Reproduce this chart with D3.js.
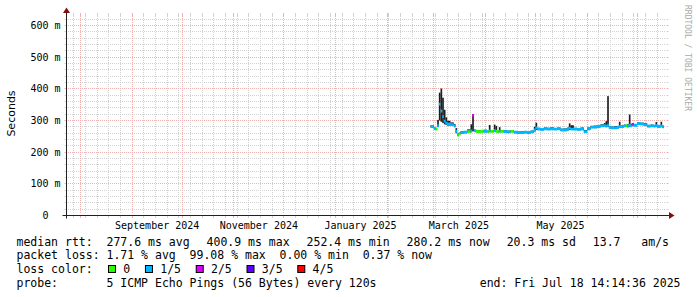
<!DOCTYPE html>
<html><head><meta charset="utf-8">
<script src="https://cdn.jsdelivr.net/npm/d3@7"></script>
<style>
html,body{margin:0;padding:0;background:#fff;}
svg{display:block;}
text{white-space:pre;}
</style></head><body>
<svg id="chart" width="697" height="297" xml:space="preserve"></svg>
<script>
// ---------------- data ----------------
const dates = ["2025-02-27","2025-03-01","2025-03-02","2025-03-03","2025-03-04","2025-03-05","2025-03-06","2025-03-07","2025-03-08","2025-03-09",
"2025-03-11","2025-03-13","2025-03-14","2025-03-15","2025-03-16","2025-03-17","2025-03-19","2025-03-21","2025-03-23","2025-03-24",
"2025-03-25","2025-03-26","2025-03-27","2025-03-29","2025-03-31","2025-04-02","2025-04-03","2025-04-04","2025-04-06","2025-04-07",
"2025-04-08","2025-04-09","2025-04-10","2025-04-12","2025-04-14","2025-04-16","2025-04-18","2025-04-20","2025-04-22","2025-04-24",
"2025-04-26","2025-04-28","2025-04-30","2025-05-01","2025-05-02","2025-05-04","2025-05-06","2025-05-08","2025-05-10","2025-05-12",
"2025-05-14","2025-05-16","2025-05-18","2025-05-20","2025-05-21","2025-05-22","2025-05-24","2025-05-26","2025-05-28","2025-05-30",
"2025-06-01","2025-06-03","2025-06-05","2025-06-07","2025-06-09","2025-06-11","2025-06-12","2025-06-13","2025-06-14","2025-06-15",
"2025-06-17","2025-06-19","2025-06-20","2025-06-21","2025-06-23","2025-06-24","2025-06-25","2025-06-26","2025-06-27","2025-06-28",
"2025-06-29","2025-07-01","2025-07-03","2025-07-05","2025-07-07","2025-07-09","2025-07-11","2025-07-12","2025-07-13","2025-07-15",
"2025-07-16"];
const dataEnd = "2025-07-17";
const medianMs = [281,275,273,284,352,330,312,298,292,289,
287,283,266,254,258,262,263,265,267,316,
268,266,265,266,266,265,267,266,268,266,
265,266,266,265,264,266,263,262,262,263,
262,264,270,277,273,272,274,273,274,273,
274,270,270,272,276,273,273,272,273,265,
274,279,279,281,283,284,282,285,278,277,
277,278,281,281,283,283,282,285,283,288,
285,290,289,287,282,283,282,284,281,283,
280];
const pingMinMs = [278,272,270,279,300,296,292,288,286,284,
283,279,260,251,255,259,260,262,263,266,
264,263,262,263,263,262,263,263,264,263,
262,263,263,262,261,263,260,259,259,260,
259,261,265,270,270,269,271,270,271,270,
271,267,267,269,270,270,270,269,270,262,
270,276,276,278,280,281,279,280,275,274,
274,275,277,278,280,280,279,280,280,284,
282,287,286,284,279,280,279,280,278,279,
277];
const pingMaxMs = [285,279,276,302,388,401,372,334,310,299,
294,289,276,259,262,266,267,272,288,320,
272,270,269,270,271,268,286,270,287,283,
268,279,270,269,268,270,266,265,266,266,
265,268,280,293,277,276,278,277,279,276,
278,274,275,278,291,285,277,276,278,270,
278,283,284,286,288,292,298,377,283,281,
282,283,296,285,287,287,288,319,290,292,
289,294,293,292,286,287,286,295,286,296,
284];
const lossOf5 = [1,1,0,1,1,1,1,1,1,1,
1,1,1,0,0,1,1,0,1,2,
1,0,0,0,1,0,1,0,1,0,
0,1,0,1,1,0,1,1,1,1,
1,1,1,1,1,1,1,1,1,1,
1,1,1,1,1,1,1,1,1,1,
1,1,1,1,1,1,1,1,1,1,
1,1,1,1,1,0,1,1,1,2,
1,1,1,1,1,1,1,1,1,1,
1];
const lossColors = ["#26ff00","#00b8ff","#dd00ff","#5e00ff","#ff0000"];
const lossLabels = ["0","1/5","2/5","3/5","4/5"];
const yTicks = [0,0.1,0.2,0.3,0.4,0.5,0.6];
const yTickLabels = ["0  ","100 m","200 m","300 m","400 m","500 m","600 m"];
const monthLabelDates = ["2024-09-01","2024-11-01","2025-01-01","2025-03-01","2025-05-01"];
const monthLabels = ["September 2024","November 2024","January 2025","March 2025","May 2025"];
const statsMedian = ["median rtt:  277.6 ms avg","400.9 ms max","252.4 ms min","280.2 ms now","20.3 ms sd","13.7   am/s"];
const statsLoss = "packet loss: 1.71 % avg  99.08 % max  0.00 % min  0.37 % now";
const lossColorTitle = "loss color:";
const probeText = "probe:       5 ICMP Echo Pings (56 Bytes) every 120s";
const endText = "end: Fri Jul 18 14:14:36 2025";
const yTitle = "Seconds";
const watermark = "RRDTOOL / TOBI OETIKER";

// ---------------- layout ----------------
const X0 = 66.5, X1 = 666.5, Y0 = 215.5, Y1 = 15.5;
const MONO = "'DejaVu Sans Mono', monospace";
const SANS = "'DejaVu Sans', sans-serif";
const parse = d3.utcParse("%Y-%m-%d");
const endTime = new Date(Date.UTC(2025, 6, 18, 14, 14, 36));
const startTime = new Date(+endTime - 360 * 864e5);
const x = d3.scaleUtc().domain([startTime, endTime]).range([X0, X1]);
const yMax = 0.6316;
const y = d3.scaleLinear().domain([0, yMax]).range([Y0, Y1]);

const svg = d3.select("#chart");
svg.append("rect").attr("width", 697).attr("height", 297).attr("fill", "#fff");

const snap = v => Math.round(v - 0.5) + 0.5;
const gridG = svg.append("g");
const MINOR = "#d2d2d2", MAJOR = "#f0b0b0";

const minorY = d3.range(0.02, yMax, 0.02).filter(v => Math.abs(v * 10 - Math.round(v * 10)) > 1e-6);
function hline(v, col) {
  const yy = snap(y(v));
  gridG.append("line").attr("x1", 68).attr("x2", 666).attr("y1", yy).attr("y2", yy)
    .attr("stroke", col).attr("stroke-dasharray", "1,1");
  gridG.append("line").attr("x1", X0 - 2).attr("x2", X0).attr("y1", yy).attr("y2", yy).attr("stroke", col);
  gridG.append("line").attr("x1", X1).attr("x2", X1 + 2).attr("y1", yy).attr("y2", yy).attr("stroke", col);
}
function vline(t, col) {
  const xx = snap(x(t));
  gridG.append("line").attr("x1", xx).attr("x2", xx).attr("y1", 16).attr("y2", 214)
    .attr("stroke", col).attr("stroke-dasharray", "1,1");
  gridG.append("line").attr("x1", xx).attr("x2", xx).attr("y1", 215).attr("y2", 218).attr("stroke", col);
  gridG.append("line").attr("x1", xx).attr("x2", xx).attr("y1", 13).attr("y2", 16).attr("stroke", col);
}
minorY.forEach(v => hline(v, MINOR));
const months = d3.utcMonth.range(startTime, endTime);
const monthKeys = new Set(months.map(m => +m));
d3.utcSunday.range(startTime, endTime).filter(w => !monthKeys.has(+w)).forEach(w => vline(w, MINOR));
yTicks.filter(v => v > 0).forEach(v => hline(v, MAJOR));
months.forEach(m => vline(m, MAJOR));

// ---------------- data marks ----------------
const buckets = dates.map((d, i) => ({
  t0: parse(d), t1: parse(i + 1 < dates.length ? dates[i + 1] : dataEnd),
  med: medianMs[i] / 1000, lo: pingMinMs[i] / 1000, hi: pingMaxMs[i] / 1000, loss: lossOf5[i]
}));
svg.append("g").selectAll("rect").data(buckets).join("rect")
  .attr("x", b => x(b.t0)).attr("width", b => x(b.t1) - x(b.t0))
  .attr("y", b => y(b.hi)).attr("height", b => y(b.lo) - y(b.hi))
  .attr("fill", "#1e1e1e");

const runs = [];
let cur = null;
buckets.forEach(b => {
  if (!cur || cur.loss !== b.loss) { cur = { loss: b.loss, pts: [] }; runs.push(cur); }
  cur.pts.push([b.t0, b.med], [b.t1, b.med]);
});
const band = d3.area().x(p => x(p[0])).y0(p => y(p[1]) + 1.4).y1(p => y(p[1]) - 1.4);
svg.append("g").selectAll("path").data(runs).join("path")
  .attr("d", r => band(r.pts)).attr("fill", r => lossColors[r.loss]);

// ---------------- axes ----------------
const axG = svg.append("g");
axG.append("line").attr("x1", X0 - 4).attr("x2", X1 + 4).attr("y1", Y0).attr("y2", Y0).attr("stroke", "#202020");
axG.append("line").attr("x1", X0).attr("x2", X0).attr("y1", Y0 + 3).attr("y2", Y1 - 3).attr("stroke", "#202020");
axG.append("path").attr("d", `M${X1 + 2.5},${Y0 - 3.5}L${X1 + 2.5},${Y0 + 3.5}L${X1 + 8},${Y0}Z`).attr("fill", "#801010");
axG.append("path").attr("d", `M${X0 - 3.5},${Y1 - 2.5}L${X0 + 3.5},${Y1 - 2.5}L${X0},${Y1 - 8}Z`).attr("fill", "#801010");

svg.append("g").selectAll("text").data(yTicks).join("text")
  .attr("x", 60.5).attr("y", v => y(v) + 3.6)
  .attr("text-anchor", "end").attr("font-family", MONO).attr("font-size", 10).attr("fill", "#000")
  .text((v, i) => yTickLabels[i]);

svg.append("g").selectAll("text").data(monthLabelDates).join("text")
  .attr("x", d => x(d3.utcDay.offset(parse(d), 15)))
  .attr("y", 229)
  .attr("text-anchor", "middle").attr("font-family", MONO).attr("font-size", 10).attr("fill", "#000")
  .text((d, i) => monthLabels[i]);

svg.append("text").attr("transform", "translate(14.5,113.5) rotate(-90)")
  .attr("text-anchor", "middle").attr("font-family", SANS).attr("font-size", 11).attr("fill", "#000")
  .text(yTitle);

svg.append("text").attr("transform", "translate(684.5,5) rotate(90)")
  .attr("font-family", MONO).attr("font-size", 8).attr("fill", "#aaaaaa")
  .text(watermark);

// ---------------- legend ----------------
const LFS = 11.5, LX = 16.5;
const legG = svg.append("g").attr("font-family", MONO).attr("font-size", LFS).attr("fill", "#000");
const row1 = statsMedian.map(s => legG.append("text").attr("y", 245.5).text(s));
const widths = row1.map(t => t.node().getComputedTextLength());
const gap = (669 - LX - d3.sum(widths)) / (row1.length - 1);
let cx = LX;
row1.forEach((t, i) => { t.attr("x", cx); cx += widths[i] + gap; });
legG.append("text").attr("x", LX).attr("y", 259.4).text(statsLoss);
legG.append("text").attr("x", LX).attr("y", 273.3).text(lossColorTitle);
let bx = 108.5;
lossLabels.forEach((lab, i) => {
  legG.append("rect").attr("x", bx).attr("y", 265.5).attr("width", 7).attr("height", 7)
    .attr("fill", lossColors[i]).attr("stroke", "#000").attr("stroke-width", 1);
  const t = legG.append("text").attr("x", bx + 14.8).attr("y", 273.3).text(lab);
  bx = bx + 14.8 + t.node().getComputedTextLength() + 15.2;
});
legG.append("text").attr("x", LX).attr("y", 287.2).text(probeText);
legG.append("text").attr("x", 680.5).attr("y", 287.2).attr("text-anchor", "end").text(endText);
</script>
</body></html>
